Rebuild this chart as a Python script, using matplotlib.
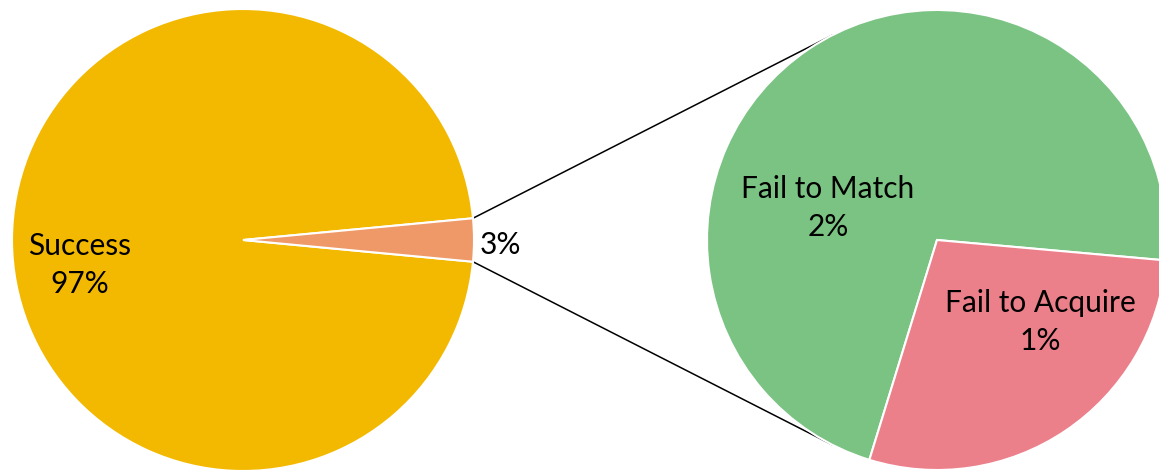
import matplotlib.pyplot as plt
import numpy as np

# main pie
main_labels = ['Success', '']
main_values = [97, 3]
main_colors = ['#F3B900', '#EE9967']

# breakdown of the 3% failures
sub_labels = ['Fail to Match', 'Fail to Acquire']
sub_values = [2.15, 0.85]
sub_colors = ['#7BC383', '#EB808A']

W, H = 1159, 472
fig = plt.figure(figsize=(W / 100, H / 100), dpi=100)
ax = fig.add_axes([0, 0, 1, 1])

c1, r1 = (243, H - 240), 231
c2, r2 = (937, H - 240), 230

wprops = {'edgecolor': 'white', 'linewidth': 1.5}
w1, _ = ax.pie(main_values, colors=main_colors, center=c1, radius=r1,
               startangle=main_values[1] / 100 * 180, counterclock=True,
               wedgeprops=wprops, frame=True)
w2, _ = ax.pie(sub_values, colors=sub_colors, center=c2, radius=r2,
               startangle=-5.1, counterclock=True, wedgeprops=wprops,
               frame=True)

# connector lines from the small slice to the breakdown pie
small = w1[1]
for th_a, th_b in [(small.theta2, 117), (small.theta1, 243)]:
    xa = c1[0] + r1 * np.cos(np.radians(th_a))
    ya = c1[1] + r1 * np.sin(np.radians(th_a))
    xb = c2[0] + r2 * np.cos(np.radians(th_b))
    yb = c2[1] + r2 * np.sin(np.radians(th_b))
    ax.plot([xa, xb], [ya, yb], color='black', lw=1.1, zorder=0)

fnt = {'family': 'Lato', 'size': 21.5, 'color': 'black'}
ax.text(80, H - 265, '%s\n%d%%' % (main_labels[0], main_values[0]),
        ha='center', va='center', linespacing=1.42, **fnt)
ax.text(480, H - 245, '%d%%' % main_values[1], ha='left', va='center', **fnt)
ax.text(828, H - 208, '%s\n%.0f%%' % (sub_labels[0], sub_values[0]),
        ha='center', va='center', linespacing=1.42, **fnt)
ax.text(1040, H - 322, '%s\n%.0f%%' % (sub_labels[1], sub_values[1]),
        ha='center', va='center', linespacing=1.42, **fnt)

ax.set_xlim(0, W)
ax.set_ylim(0, H)
ax.set_aspect('equal')
ax.axis('off')

fig.savefig('out.png', dpi=100)
